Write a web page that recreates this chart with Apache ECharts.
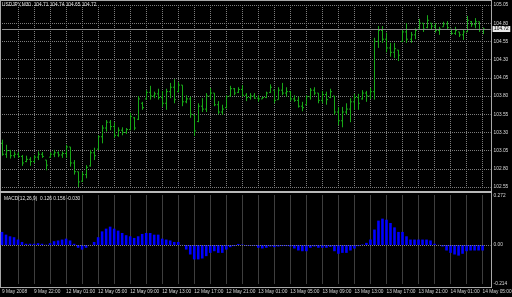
<!DOCTYPE html>
<html><head><meta charset="utf-8">
<script src="https://cdn.jsdelivr.net/npm/echarts@6/dist/echarts.min.js"></script>
<style>html,body{margin:0;padding:0;background:#000}#c{width:512px;height:297px}</style>
</head><body><div id="c"></div>
<script>
const symbolTitle = 'USDJPY,M30  104.71 104.74 104.65 104.72';
const macdTitle = 'MACD(12,26,9)  0.126 0.156 -0.030';
const timeLabels = ['9 May 2008','9 May 22:00','12 May 01:00','12 May 05:00','12 May 09:00','12 May 13:00','12 May 17:00','12 May 21:00','13 May 01:00','13 May 05:00','13 May 09:00','13 May 13:00','13 May 17:00','13 May 21:00','14 May 01:00','14 May 05:00'];
const priceLabels = ['102.55','102.80','103.05','103.30','103.55','103.80','104.05','104.30','104.55','104.80','105.05'];
const macdLabels = {'-0.214':'-0.214','0.000':'0.00','0.272':'0.272'};
const lastPrice = 104.72;

const opens = [103.15,103.00,103.05,102.98,103.00,102.97,102.90,102.93,102.90,102.96,
103.00,102.92,102.96,103.00,103.02,102.99,103.01,103.10,102.88,102.76,
102.63,102.72,102.84,103.02,103.07,103.24,103.36,103.44,103.38,103.26,
103.33,103.30,103.34,103.50,103.48,103.70,103.76,103.85,103.80,103.83,
103.78,103.70,103.86,103.92,103.86,103.95,103.72,103.76,103.54,103.45,
103.66,103.62,103.80,103.84,103.68,103.58,103.64,103.80,103.90,103.85,
103.89,103.81,103.78,103.80,103.77,103.76,103.78,103.85,103.88,103.75,
103.88,103.84,103.86,103.76,103.74,103.66,103.68,103.79,103.88,103.84,
103.74,103.82,103.78,103.80,103.58,103.46,103.58,103.62,103.72,103.78,
103.76,103.84,103.80,103.86,104.55,104.70,104.58,104.46,104.40,104.43,
104.55,104.68,104.58,104.64,104.72,104.80,104.74,104.80,104.76,104.70,
104.75,104.79,104.72,104.66,104.68,104.64,104.68,104.82,104.78,104.82,
104.71];
const highs = [103.20,103.13,103.06,103.04,103.03,102.99,102.98,102.96,102.99,103.04,
103.03,102.92,103.03,103.06,103.04,103.04,103.13,103.10,102.92,102.76,
102.76,102.85,103.06,103.09,103.26,103.40,103.47,103.47,103.44,103.37,
103.37,103.36,103.57,103.51,103.80,103.72,103.88,103.94,103.86,103.90,
103.87,103.90,103.98,104.03,103.99,103.95,103.81,103.79,103.54,103.70,
103.77,103.84,103.91,103.84,103.73,103.68,103.81,103.94,103.91,103.92,
103.95,103.84,103.84,103.84,103.81,103.79,103.86,103.96,103.88,103.92,
103.98,103.92,103.87,103.81,103.79,103.72,103.81,103.91,103.92,103.84,
103.87,103.86,103.90,103.80,103.65,103.65,103.70,103.77,103.83,103.83,
103.88,103.87,103.91,104.60,104.76,104.76,104.67,104.53,104.53,104.43,
104.72,104.80,104.68,104.73,104.86,104.80,104.91,104.80,104.80,104.75,
104.82,104.83,104.72,104.75,104.68,104.71,104.90,104.83,104.87,104.82,
104.74];
const lows = [102.98,102.95,102.94,102.95,102.95,102.84,102.89,102.84,102.88,102.92,
102.95,102.78,102.95,102.96,102.96,102.95,102.95,102.83,102.72,102.55,
102.62,102.67,102.83,102.92,103.06,103.15,103.31,103.33,103.22,103.24,
103.26,103.28,103.33,103.33,103.47,103.61,103.75,103.75,103.77,103.75,
103.65,103.61,103.77,103.70,103.85,103.66,103.70,103.50,103.25,103.44,
103.58,103.58,103.75,103.66,103.55,103.54,103.63,103.79,103.81,103.84,
103.79,103.73,103.75,103.76,103.72,103.76,103.77,103.84,103.70,103.75,
103.81,103.79,103.73,103.72,103.64,103.59,103.68,103.75,103.81,103.70,
103.70,103.68,103.77,103.54,103.40,103.37,103.54,103.44,103.61,103.61,
103.75,103.72,103.76,103.75,104.46,104.53,104.40,104.34,104.32,104.28,
104.54,104.53,104.53,104.58,104.72,104.68,104.73,104.71,104.67,104.64,
104.75,104.72,104.64,104.64,104.61,104.57,104.68,104.75,104.73,104.68,
104.65];
const closes = [103.00,103.05,102.98,103.00,102.97,102.88,102.93,102.90,102.96,103.00,
102.97,102.85,103.00,103.02,102.99,103.01,103.10,102.88,102.76,102.62,
102.72,102.82,103.02,102.98,103.24,103.36,103.44,103.38,103.26,103.33,
103.30,103.34,103.52,103.36,103.76,103.64,103.85,103.80,103.83,103.78,
103.70,103.86,103.92,103.75,103.95,103.72,103.76,103.55,103.32,103.66,
103.62,103.80,103.84,103.68,103.58,103.62,103.79,103.90,103.84,103.89,
103.81,103.78,103.80,103.77,103.76,103.78,103.84,103.92,103.74,103.88,
103.84,103.86,103.76,103.74,103.66,103.64,103.79,103.88,103.84,103.74,
103.82,103.75,103.86,103.58,103.46,103.58,103.62,103.72,103.78,103.70,
103.84,103.80,103.86,104.55,104.70,104.58,104.46,104.40,104.45,104.36,
104.68,104.58,104.64,104.70,104.80,104.72,104.84,104.76,104.70,104.72,
104.79,104.74,104.66,104.70,104.64,104.68,104.84,104.78,104.82,104.71,
104.72];
const macdHist = [0.072,0.057,0.048,0.043,0.030,0.017,0.007,0.007,0.007,0.010,
0.007,0.002,0.010,0.021,0.025,0.030,0.035,0.025,0.007,-0.015,
-0.025,-0.015,0.001,0.017,0.043,0.075,0.090,0.101,0.090,0.079,
0.066,0.054,0.048,0.039,0.048,0.061,0.066,0.066,0.057,0.057,
0.035,0.030,0.025,0.017,0.017,0.001,-0.025,-0.052,-0.079,-0.079,
-0.074,-0.061,-0.043,-0.034,-0.043,-0.043,-0.025,-0.012,-0.006,0.006,
0.003,-0.004,-0.004,-0.004,-0.015,-0.019,-0.015,-0.008,-0.012,-0.008,
-0.006,-0.006,-0.008,-0.019,-0.030,-0.034,-0.034,-0.015,-0.008,-0.015,
-0.015,-0.015,-0.010,-0.034,-0.048,-0.043,-0.043,-0.030,-0.019,-0.006,
0.003,0.012,0.030,0.085,0.134,0.145,0.139,0.121,0.097,0.072,
0.072,0.048,0.030,0.030,0.030,0.030,0.030,0.025,0.007,0.001,
-0.008,-0.030,-0.043,-0.052,-0.058,-0.048,-0.034,-0.030,-0.030,-0.030,
-0.030];

const barCount = opens.length;
const shiftBars = 2;
const categories = Array.from({length: barCount + shiftBars}, (_, i) => String(i));
const ohlc = opens.map((o, i) => [i, o, highs[i], lows[i], closes[i]]);

const font = {fontFamily: 'Liberation Sans', fontSize: 4.8};
const dotted = {color: '#7c7c7c', type: [1, 1], width: 1};
const gridLineAt = (i) => i > 0 && i % 4 === 0 && i < barCount;
const labelAt = (i) => i % 8 === 0 && i < barCount;
const barColor = '#18a818';
const frame = '#a8a8a8';

const chart = echarts.init(document.getElementById('c'), null, {renderer: 'canvas'});
chart.setOption({
  backgroundColor: '#000000',
  animation: false,
  title: [
    {text: symbolTitle, left: 2, top: 2.5, padding: 0, textStyle: Object.assign({color: '#e0e0e0', fontWeight: 'normal'}, font)},
    {text: macdTitle, left: 4, top: 196, padding: 0, textStyle: Object.assign({color: '#e0e0e0', fontWeight: 'normal'}, font)}
  ],
  grid: [
    {left: 2, top: 5, width: 488.6, height: 182, outerBoundsMode: 'none'},
    {left: 2, top: 195.5, width: 488.6, height: 88.5, outerBoundsMode: 'none'}
  ],
  xAxis: [
    {type: 'category', gridIndex: 0, data: categories, boundaryGap: false,
     axisLine: {show: false}, axisTick: {show: false}, axisLabel: {show: false},
     splitLine: {show: true, interval: (i) => gridLineAt(i), lineStyle: dotted}},
    {type: 'category', gridIndex: 1, data: categories, boundaryGap: false,
     axisLine: {show: false}, axisTick: {show: false},
     axisLabel: Object.assign({show: true, interval: (i) => labelAt(i), formatter: (v, i) => timeLabels[i / 8] || '',
       align: 'left', margin: 5, color: '#d8d8d8'}, font),
     splitLine: {show: true, interval: (i) => gridLineAt(i), lineStyle: dotted}}
  ],
  yAxis: [
    {type: 'value', gridIndex: 0, position: 'right', min: 102.55, max: 105.05, interval: 0.05,
     axisLine: {show: false}, axisTick: {show: false},
     axisLabel: Object.assign({margin: 3, color: '#d8d8d8', formatter: (v) => { const s = v.toFixed(2); return priceLabels.includes(s) ? s : ''; }}, font),
     splitLine: {show: true, lineStyle: {color: ['#7c7c7c', 'rgba(0,0,0,0)', 'rgba(0,0,0,0)', 'rgba(0,0,0,0)', 'rgba(0,0,0,0)'], type: [1, 1], width: 1}}},
    {type: 'value', gridIndex: 1, position: 'right', min: -0.214, max: 0.272, interval: 0.002,
     axisLine: {show: false}, axisTick: {show: false},
     axisLabel: Object.assign({margin: 3, color: '#d8d8d8', formatter: (v) => macdLabels[v.toFixed(3)] || ''}, font),
     splitLine: {show: false}}
  ],
  series: [
    {type: 'custom', xAxisIndex: 0, yAxisIndex: 0, data: ohlc, encode: {x: 0, y: [1, 2, 3, 4]},
     renderItem: (params, api) => {
       const i = api.value(0);
       const hi = api.coord([i, api.value(2)]);
       const lo = api.coord([i, api.value(3)]);
       const op = api.coord([i, api.value(1)]);
       const cl = api.coord([i, api.value(4)]);
       const xc = Math.round(hi[0]) + 0.5;
       const st = {stroke: barColor, lineWidth: 1};
       return {type: 'group', children: [
         {type: 'line', shape: {x1: xc, y1: hi[1], x2: xc, y2: lo[1]}, style: st},
         {type: 'line', shape: {x1: xc - 1.5, y1: op[1], x2: xc, y2: op[1]}, style: st},
         {type: 'line', shape: {x1: xc, y1: cl[1], x2: xc + 1.5, y2: cl[1]}, style: st}
       ]};
     }},
    {type: 'scatter', xAxisIndex: 0, yAxisIndex: 0, data: [[barCount - 1, lastPrice]], symbolSize: 0, silent: true,
     markLine: {silent: true, symbol: ['none', 'none'], animation: false,
       data: [{yAxis: lastPrice}],
       lineStyle: {color: '#8c8c8c', type: 'solid', width: 1},
       label: Object.assign({show: true, position: 'end', distance: 2, formatter: lastPrice.toFixed(2),
         backgroundColor: '#e8e8e8', color: '#000000', padding: [1, 1.5, 0, 1.5]}, font)}},
    {type: 'bar', xAxisIndex: 1, yAxisIndex: 1, data: macdHist, barWidth: 2.6, clip: false,
     itemStyle: {color: '#0000ff'},
     markLine: {silent: true, symbol: ['none', 'none'], animation: false, data: [{yAxis: 0}],
       lineStyle: dotted, label: {show: false}}}
  ],
  graphic: [
    {type: 'line', shape: {x1: 0, y1: 0.5, x2: 492, y2: 0.5}, style: {stroke: frame, lineWidth: 1}, silent: true},
    {type: 'line', shape: {x1: 0.5, y1: 0, x2: 0.5, y2: 288}, style: {stroke: frame, lineWidth: 1}, silent: true},
    {type: 'line', shape: {x1: 491.5, y1: 0, x2: 491.5, y2: 288}, style: {stroke: frame, lineWidth: 1}, silent: true},
    {type: 'rect', shape: {x: 0, y: 191, width: 492, height: 2}, style: {fill: '#b8b8b8'}, silent: true},
    {type: 'line', shape: {x1: 0, y1: 287.5, x2: 492, y2: 287.5}, style: {stroke: frame, lineWidth: 1}, silent: true}
  ]
});
</script></body></html>
